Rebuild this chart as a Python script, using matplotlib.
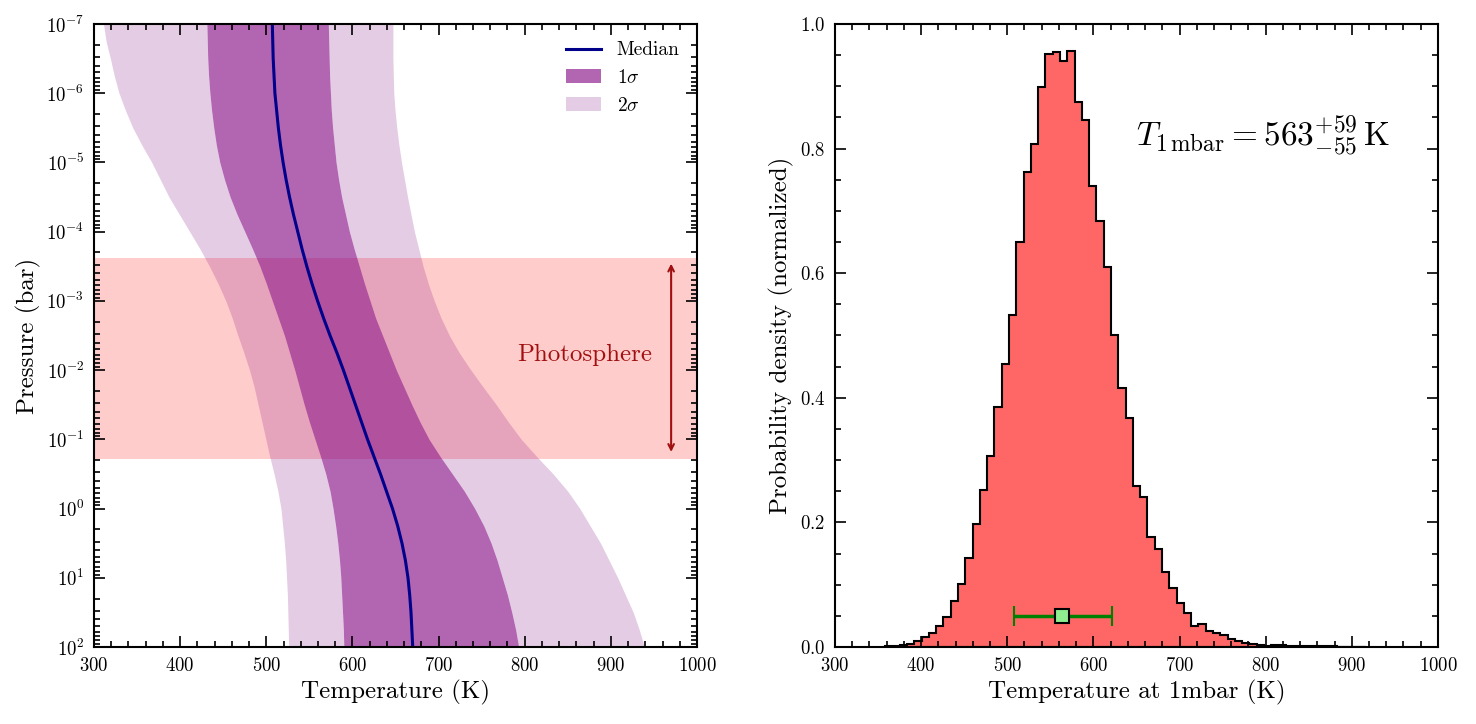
import numpy as np
import matplotlib
matplotlib.use("Agg")
import matplotlib.pyplot as plt
from matplotlib import ticker

plt.rcParams["font.family"] = "serif"
plt.rcParams["font.serif"] = ["cmr10", "DejaVu Serif"]
plt.rcParams["mathtext.fontset"] = "cm"
plt.rcParams["axes.formatter.use_mathtext"] = True
plt.rcParams["axes.linewidth"] = 1.5

# --- left panel: retrieved T-P profile, log10 pressure in bar, T in K ---
log_p = [-7.0, -6.75, -6.5, -6.25, -6.0, -5.75, -5.5, -5.25, -5.0, -4.75, -4.5, -4.25,
         -4.0, -3.75, -3.5, -3.25, -3.0, -2.75, -2.5, -2.25, -2.0, -1.75, -1.5, -1.25,
         -1.0, -0.75, -0.5, -0.25, 0.0, 0.25, 0.5, 0.75, 1.0, 1.25, 1.5, 1.75, 2.0]
t_2sig_lo = [311, 314, 319, 323.5, 329, 336.5, 345, 355.5, 367, 377, 387, 399,
             411, 423, 434, 444, 453, 460.5, 467, 474, 480.5, 486, 490.5, 495,
             499.5, 504, 509, 513.5, 517, 519, 521, 522.5, 523.5, 524.5, 525, 525.5, 526]
t_1sig_lo = [431, 431.5, 432, 433, 434.5, 436.5, 439, 442, 446, 451.5, 458, 466,
             475, 484, 492.5, 500, 507, 514, 521, 527, 533, 538.5, 544, 550,
             556.5, 563, 569, 574, 577.5, 580.5, 583, 585, 586.5, 587.5, 588.5, 589.5, 590]
t_median = [507, 507.5, 508, 509, 510, 512, 514, 516.5, 519.5, 523, 527, 531.5,
            536.5, 541.5, 547, 553, 559.5, 566.5, 574, 582, 589.5, 596.5, 603.5, 610.5,
            617.5, 625, 632.5, 639.5, 646.5, 652.5, 657.5, 661.5, 664.5, 666.5, 668, 669, 670]
t_1sig_hi = [572, 572.5, 573, 573.5, 574.5, 575.5, 577, 579, 581, 584, 587.5, 592,
             596.5, 602, 608, 614, 620.5, 627, 635, 643, 651, 660, 669, 678.5,
             689, 702, 716, 730, 742, 752.5, 761, 768, 774, 780, 785, 789.5, 793]
t_2sig_hi = [647, 647, 647, 647.5, 648, 649.5, 651.5, 654, 657, 660.5, 664, 668,
             672, 677, 682, 688, 695, 703, 712.5, 724, 737.5, 752, 767, 781,
             796, 814, 833, 850, 864, 876, 888, 898, 908, 917, 926, 933, 939]
photo_top, photo_bottom = 2.4e-4, 0.19

# --- right panel: histogram of T at 1 mbar ---
hist_start, hist_width = 358.2, 8.46
hist_density = [0.001, 0.002, 0.003, 0.004,
                0.010, 0.016, 0.022, 0.033, 0.048, 0.073, 0.101, 0.143, 0.198, 0.252,
                0.307, 0.385, 0.455, 0.533, 0.650, 0.762, 0.808, 0.899, 0.952, 0.955,
                0.941, 0.957, 0.874, 0.846, 0.740, 0.683, 0.610, 0.501, 0.415, 0.367,
                0.258, 0.240, 0.176, 0.158, 0.121, 0.095, 0.070, 0.054, 0.034, 0.037,
                0.026, 0.023, 0.019, 0.013, 0.010, 0.007, 0.004, 0.003, 0.002, 0.003,
                0.003, 0.002, 0.002, 0.001, 0.002, 0.001, 0.001, 0.001, 0.0005, 0.0005,
                0.0005, 0.0003]
t_med, t_plus, t_minus = 563, 59, 55

pressure = 10.0 ** np.array(log_p)

fig = plt.figure(figsize=(14.76, 7.24), dpi=100)
ax1 = fig.add_axes([0.0637, 0.1064, 0.4085, 0.8605])
ax2 = fig.add_axes([0.5657, 0.1064, 0.4085, 0.8605])

ax1.axhspan(photo_top, photo_bottom, color="red", alpha=0.2, lw=0, zorder=0)
s2 = ax1.fill_betweenx(pressure, t_2sig_lo, t_1sig_lo, color="purple", alpha=0.2, lw=0)
ax1.fill_betweenx(pressure, t_1sig_hi, t_2sig_hi, color="purple", alpha=0.2, lw=0)
s1 = ax1.fill_betweenx(pressure, t_1sig_lo, t_1sig_hi, color="purple", alpha=0.6, lw=0)
med, = ax1.plot(t_median, pressure, color="#00008b", lw=2.2)
ax1.annotate("", xy=(970, photo_top * 1.1), xytext=(970, photo_bottom * 0.88),
             arrowprops=dict(arrowstyle="<->", color="#a01010", lw=1.5))
ax1.text(948, 6e-3, "Photosphere", color="#a01010", fontsize=18, ha="right", va="center")
ax1.set_yscale("log")
ax1.set_xlim(300, 1000)
ax1.set_ylim(100, 1e-7)
ax1.yaxis.set_major_locator(ticker.LogLocator(base=10, numticks=20))
ax1.yaxis.set_minor_locator(ticker.LogLocator(base=10, subs=np.arange(2, 10), numticks=20))
ax1.yaxis.set_minor_formatter(ticker.NullFormatter())
ax1.set_xlabel("Temperature (K)", fontsize=18)
ax1.set_ylabel("Pressure (bar)", fontsize=18)
ax1.xaxis.set_minor_locator(ticker.MultipleLocator(20))
ax1.legend([med, s1, s2], ["Median", r"$1\sigma$", r"$2\sigma$"], loc="upper right",
           frameon=False, fontsize=14, handlelength=1.8)

edges = np.linspace(hist_start, hist_start + hist_width * len(hist_density), len(hist_density) + 1)
ax2.hist(edges[:-1], bins=edges, weights=hist_density, histtype="stepfilled",
         facecolor="#ff6666", edgecolor="black", lw=1.5)
ax2.errorbar([t_med], [0.05], xerr=[[t_minus], [t_plus]], fmt="s", color="green",
             mfc="lightgreen", mec="black", mew=1.5, ms=10, lw=2.5, capsize=7, capthick=2.5)
ax2.text(797, 0.82, r"$T_{1\,\mathrm{mbar}} = 563^{+59}_{-55}\,\mathrm{K}$",
         fontsize=24, ha="center", va="center")
ax2.set_xlim(300, 1000)
ax2.set_ylim(0, 1.0)
ax2.set_xlabel("Temperature at 1mbar (K)", fontsize=18)
ax2.set_ylabel("Probability density (normalized)", fontsize=18)
ax2.xaxis.set_minor_locator(ticker.MultipleLocator(20))
ax2.yaxis.set_minor_locator(ticker.AutoMinorLocator())

for ax in (ax1, ax2):
    ax.tick_params(which="both", direction="in", top=True, right=True, labelsize=13.5, width=1.2)
    ax.tick_params(which="major", length=8, pad=7)
    ax.tick_params(which="minor", length=4)

fig.savefig("out.png", dpi=100)
